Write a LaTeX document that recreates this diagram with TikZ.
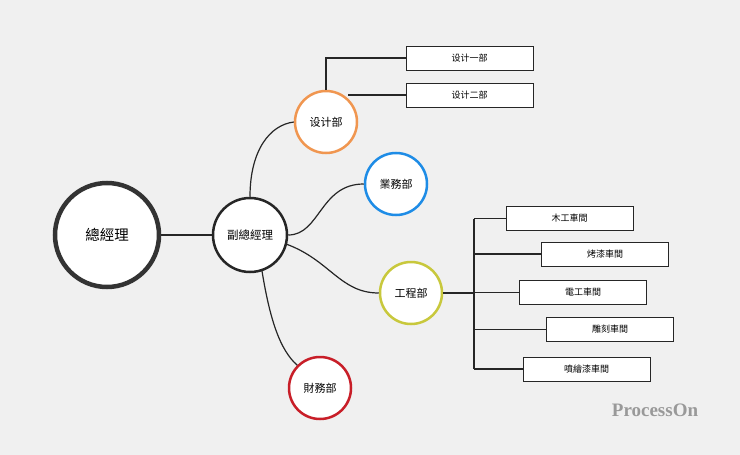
\documentclass[tikz,border=0pt]{standalone}
\usepackage{fontspec}
\setmainfont{Noto Sans CJK TC}
\begin{document}
\begin{tikzpicture}[x=1pt,y=-1pt,
  circ/.style={circle,draw,fill=white,inner sep=0pt,minimum size=#1},
  box/.style={draw=black!85,fill=white,line width=1pt,minimum width=127pt,minimum height=24pt,inner sep=0pt,font=\fontsize{9}{10}\selectfont},
  conn/.style={line width=1.2pt,draw=black!85}]
\fill[gray!12] (0,0) rectangle (740,455);
\useasboundingbox (0,0) rectangle (740,455);
\node[circ=104pt,line width=4.5pt,draw=black!80,font=\fontsize{14.5}{16}\selectfont] (gm) at (107,235) {總經理};
\node[circ=74pt,line width=2.5pt,draw=black!85,font=\fontsize{11.5}{13}\selectfont] (vgm) at (250,235) {副總經理};
\node[circ=62pt,line width=2.5pt,draw={rgb,255:red,240;green,150;blue,80},font=\fontsize{11}{12}\selectfont] (sj) at (326,122) {设计部};
\node[circ=62pt,line width=2.5pt,draw={rgb,255:red,30;green,140;blue,230},font=\fontsize{11}{12}\selectfont] (yw) at (396,184) {業務部};
\node[circ=62pt,line width=2.5pt,draw={rgb,255:red,200;green,200;blue,60},font=\fontsize{11}{12}\selectfont] (gc) at (411,293) {工程部};
\node[circ=62pt,line width=2.5pt,draw={rgb,255:red,200;green,30;blue,40},font=\fontsize{11}{12}\selectfont] (cw) at (320,388) {財務部};
\node[box] (s1) at (469.5,58) {设计一部};
\node[box] (s2) at (469.5,95) {设计二部};
\node[box] (b1) at (569.5,218.5) {木工車間};
\node[box] (b2) at (605,254) {烤漆車間};
\node[box] (b3) at (583,292.5) {電工車間};
\node[box] (b4) at (610,329.5) {雕刻車間};
\node[box] (b5) at (586.5,369) {噴繪漆車間};
\coordinate (j) at (474,293);
\draw[conn] (gm.east) -- (vgm.west);
\draw[conn] (vgm.north) .. controls (250,150) and (270,125) .. (sj.west);
\draw[conn] (vgm.east) .. controls (320,235) and (320,184) .. (yw.west);
\draw[conn] (286,244) .. controls (330,260) and (340,293) .. (gc.west);
\draw[conn] (262,271) .. controls (270,320) and (280,350) .. (cw.north west);
\draw[conn] (sj.north) -- (326,58) -- (s1.west);
\draw[conn] (348,95) -- (s2.west);
\draw[conn] (gc.east) -- (j);
\draw[conn] (474,218.5) -- (474,369);
\foreach \b in {b1,b2,b3,b4,b5} \draw[conn] (474,0 |- \b.west) -- (\b.west);
\node[font=\fontsize{19}{21}\bfseries\fontspec{Liberation Serif},text=black!40] (po) at (655,410) {ProcessOn};
\end{tikzpicture}
\end{document}
